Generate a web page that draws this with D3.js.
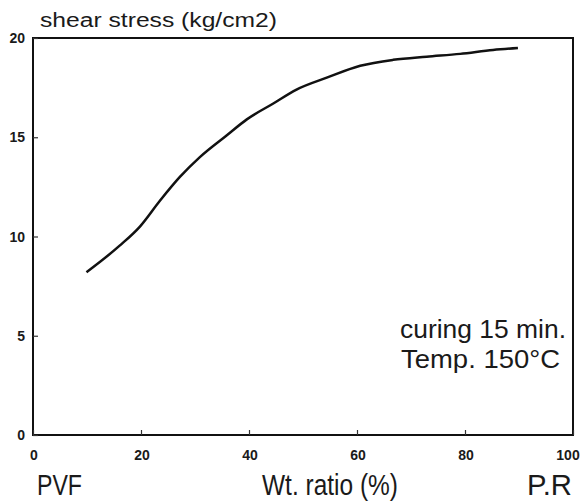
<!DOCTYPE html>
<html>
<head>
<meta charset="utf-8">
<script src="https://cdn.jsdelivr.net/npm/d3@7"></script>
<style>
  body { margin: 0; background: #fff; }
  text { font-family: "Liberation Sans", Arial, sans-serif; fill: #1a1a1a; }
</style>
</head>
<body>
<script>
const width = 588;
const height = 504;
const margin = { top: 38, right: 15, bottom: 69, left: 33 };

// curve: wt. ratio (%) vs shear stress (kg/cm2)
const ratio  = [9.9, 16.1, 19.8, 23.5, 27.2, 30.9, 35.9, 39.6, 44.5, 48.8, 54.4, 60.6, 66.7, 72.9, 79.1, 85.2, 89.8];
const stress = [8.2, 9.55, 10.5, 11.8, 13.0, 14.0, 15.1, 15.9, 16.7, 17.4, 18.0, 18.6, 18.9, 19.06, 19.2, 19.4, 19.5];

const xTicks = [0, 20, 40, 60, 80, 100];
const yTicks = [0, 5, 10, 15, 20];

const svg = d3.select("body")
    .append("svg")
    .attr("width", width)
    .attr("height", height);

const xScale = d3.scaleLinear()
    .domain([0, 100])
    .range([margin.left, width - margin.right]);

const yScale = d3.scaleLinear()
    .domain([0, 20])
    .range([height - margin.bottom, margin.top]);

// frame
svg.append("rect")
    .attr("x", xScale(0))
    .attr("y", yScale(20))
    .attr("width", xScale(100) - xScale(0))
    .attr("height", yScale(0) - yScale(20))
    .attr("fill", "none")
    .attr("stroke", "#111")
    .attr("stroke-width", 2);

// x axis, ticks pointing inward
const xAxis = d3.axisBottom(xScale)
    .tickValues(xTicks)
    .tickSize(-5)
    .tickFormat("");
svg.append("g")
    .attr("transform", `translate(0, ${yScale(0)})`)
    .call(xAxis)
    .call(g => g.select(".domain").remove())
    .selectAll(".tick line")
    .attr("stroke", "#333")
    .attr("stroke-width", 1.2);

svg.append("g")
    .selectAll("text")
    .data(xTicks)
    .join("text")
    .attr("x", d => xScale(d) + (d === 100 ? -5 : 1))
    .attr("y", 460)
    .attr("text-anchor", "middle")
    .attr("font-size", 14)
    .attr("font-weight", "bold")
    .text(d => d);

// y axis
const yAxis = d3.axisLeft(yScale)
    .tickValues(yTicks)
    .tickSize(-5)
    .tickFormat("");
svg.append("g")
    .attr("transform", `translate(${xScale(0)}, 0)`)
    .call(yAxis)
    .call(g => g.select(".domain").remove())
    .selectAll(".tick line")
    .attr("stroke", "#333")
    .attr("stroke-width", 1.2);

svg.append("g")
    .selectAll("text")
    .data(yTicks)
    .join("text")
    .attr("x", 25)
    .attr("y", d => yScale(d) + 5)
    .attr("text-anchor", "end")
    .attr("font-size", 14)
    .attr("font-weight", "bold")
    .text(d => d);

// curve
const line = d3.line()
    .x(d => xScale(d[0]))
    .y(d => yScale(d[1]))
    .curve(d3.curveMonotoneX);

svg.append("path")
    .datum(d3.zip(ratio, stress))
    .attr("d", line)
    .attr("fill", "none")
    .attr("stroke", "#111")
    .attr("stroke-width", 2.5);

// labels (textLength squeezes them to the narrow scanned lettering)
function label(str, x, y, size, len) {
    svg.append("text")
        .attr("x", x)
        .attr("y", y)
        .attr("font-size", size)
        .attr("textLength", len)
        .attr("lengthAdjust", "spacingAndGlyphs")
        .text(str);
}

label("shear stress (kg/cm2)", 40, 27, 20, 237);
label("PVF", 37, 495, 29, 45);
label("Wt. ratio (%)", 262, 495, 29, 136);
label("P.R", 527, 495, 29, 45);
label("curing 15 min.", 400, 338, 25, 166);
label("Temp. 150°C", 401, 368, 25, 159);
</script>
</body>
</html>
